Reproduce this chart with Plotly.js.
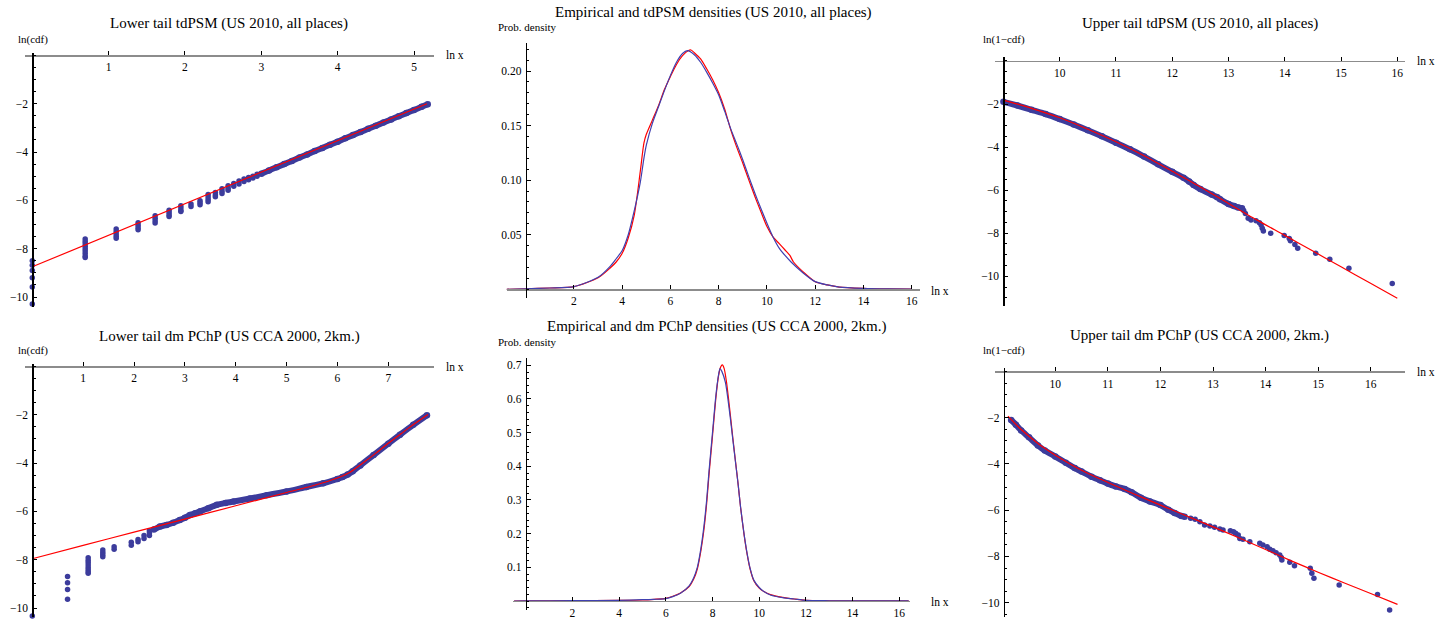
<!DOCTYPE html>
<html><head><meta charset="utf-8">
<script src="https://cdn.plot.ly/plotly-3.0.1.min.js"></script>
<style>body{margin:0;background:#fff}#plot{width:1438px;height:621px}</style>
</head><body><div id="plot"></div>
<script>
// ---------------- DATA ----------------
// Panel 1: Lower tail tdPSM (US 2010, all places)
const p1_cluster_x = [0, 0.693, 1.099, 1.386, 1.609, 1.792, 1.946, 2.079, 2.197, 2.303, 2.398, 2.485, 2.565, 2.639, 2.708, 2.773, 2.833, 2.890, 2.944];
const p1_cluster_y = [
  [-8.5,-8.69,-8.9,-9.2,-9.59,-10.29],
  [-7.6,-7.7,-7.8,-7.9,-8.0,-8.1,-8.2,-8.3,-8.37],
  [-7.19,-7.29,-7.39,-7.49,-7.57],
  [-6.93,-7.03,-7.13,-7.22],
  [-6.64,-6.74,-6.84,-6.94],
  [-6.41,-6.5,-6.6,-6.67],
  [-6.22,-6.32,-6.42,-6.46],
  [-6.15,-6.25],
  [-6.02,-6.1,-6.18],
  [-5.76,-5.86,-5.96,-6.06],
  [-5.68,-5.78,-5.85],
  [-5.52,-5.62,-5.72],
  [-5.4,-5.5,-5.58],
  [-5.3,-5.42],
  [-5.2,-5.32],
  [-5.12,-5.22],
  [-5.05,-5.15],
  [-5.0,-5.08],
  [-4.92,-5.0]
];
const p1_band_x = [3.0,3.1,3.2,3.3,3.4,3.5,3.6,3.7,3.8,3.9,4.0,4.1,4.2,4.3,4.4,4.5,4.6,4.7,4.8,4.9,5.0,5.1,5.18];
const p1_band_y = [-4.9,-4.76,-4.63,-4.5,-4.37,-4.23,-4.1,-3.96,-3.83,-3.7,-3.57,-3.43,-3.3,-3.17,-3.04,-2.91,-2.78,-2.65,-2.52,-2.39,-2.26,-2.13,-2.02];
const p1_fit_x = [0,1,2,3,4,5,5.17];
const p1_fit_y = [-8.75,-7.44,-6.14,-4.83,-3.53,-2.22,-2.0];

// Panel 2: Empirical and tdPSM densities (US 2010, all places)
const p2_emp_x = [-0.8,0,1,2,3,3.5,3.75,4,4.25,4.5,4.75,4.9,5,5.25,5.5,5.75,6,6.25,6.5,6.7,7,7.25,7.5,7.75,8,8.25,8.5,8.75,9,9.25,9.5,9.75,10,10.25,10.5,10.75,11,11.5,12,12.5,13,14,15,16];
const p2_emp_y = [0,0.0005,0.0012,0.0025,0.011,0.021,0.028,0.0355,0.05,0.072,0.098,0.12,0.132,0.152,0.167,0.182,0.196,0.208,0.216,0.2186,0.2147,0.208,0.199,0.189,0.178,0.163,0.147,0.133,0.1185,0.103,0.088,0.074,0.0605,0.048,0.038,0.031,0.025,0.015,0.007,0.004,0.002,0.0008,0.0003,0.0001];
const p2_fit_x = [-0.8,0,1,2,3,3.5,3.75,4,4.25,4.5,4.75,4.9,5,5.25,5.5,5.75,6,6.25,6.5,6.75,6.85,7,7.25,7.5,7.75,8,8.25,8.5,8.75,9,9.25,9.5,9.75,10,10.25,10.5,10.75,10.95,11.1,11.5,12,12.5,13,14,15,16];
const p2_fit_y = [0,0.0005,0.0012,0.0024,0.0105,0.0195,0.025,0.033,0.047,0.068,0.108,0.134,0.142,0.155,0.168,0.183,0.195,0.206,0.214,0.2188,0.2192,0.2165,0.211,0.202,0.192,0.18,0.165,0.146,0.13,0.1155,0.1,0.085,0.071,0.0575,0.048,0.042,0.036,0.031,0.025,0.016,0.007,0.004,0.002,0.0008,0.0003,0.0001];

// Panel 3: Upper tail tdPSM (US 2010, all places)
const p3_band_x = [9.0,9.25,9.5,9.75,10,10.25,10.5,10.75,11,11.25,11.5,11.75,12,12.2,12.3,12.38,12.5,12.7,12.8,12.85,13.0,13.1,13.17,13.24];
const p3_band_y = [-1.9,-2.07,-2.27,-2.47,-2.7,-2.95,-3.22,-3.5,-3.8,-4.1,-4.44,-4.8,-5.15,-5.42,-5.6,-5.76,-5.95,-6.2,-6.33,-6.42,-6.64,-6.74,-6.8,-6.84];
const p3_pts_x = [13.27,13.3,13.35,13.4,13.49,13.55,13.58,13.6,13.62,13.75,13.99,14.08,14.1,14.18,14.23,14.55,14.8,15.14,15.91];
const p3_pts_y = [-6.95,-7.08,-7.31,-7.39,-7.42,-7.51,-7.62,-7.77,-7.9,-8.0,-8.11,-8.24,-8.35,-8.52,-8.7,-8.93,-9.21,-9.63,-10.33];
const p3_fit_x = [9.0,9.5,10,10.5,11,11.5,12,12.5,13,13.5,14,14.5,15,15.5,16];
const p3_fit_y = [-1.82,-2.2,-2.64,-3.17,-3.75,-4.4,-5.12,-5.85,-6.62,-7.38,-8.1,-8.83,-9.56,-10.29,-11.02];

// Panel 4: Lower tail dm PChP (US CCA 2000, 2km.)
const p4_cluster_x = [0, 0.693, 1.099, 1.386, 1.609, 1.946, 2.079, 2.197, 2.303];
const p4_cluster_y = [
  [-10.33],
  [-8.7,-8.95,-9.23,-9.64],
  [-7.92,-8.02,-8.12,-8.22,-8.32,-8.42,-8.5,-8.56],
  [-7.6,-7.7,-7.8,-7.88],
  [-7.47,-7.57],
  [-7.28,-7.4],
  [-7.17,-7.26],
  [-7.0,-7.12],
  [-6.8,-6.9,-7.0]
];
const p4_band_x = [2.39,2.51,2.64,2.77,2.9,3.0,3.1,3.2,3.3,3.46,3.63,3.8,3.96,4.28,4.61,5.0,5.39,5.72,6.0,6.1,6.2,6.3,6.45,6.71,7.0,7.23,7.49,7.76];
const p4_band_y = [-6.75,-6.63,-6.56,-6.47,-6.36,-6.27,-6.15,-6.08,-6.0,-5.87,-5.73,-5.65,-5.59,-5.47,-5.33,-5.18,-4.99,-4.84,-4.66,-4.58,-4.48,-4.34,-4.1,-3.67,-3.2,-2.83,-2.42,-2.02];
const p4_fit_x = [0,1,2,3,4,5,5.5,6,6.25,6.5,6.75,7,7.25,7.5,7.78];
const p4_fit_y = [-7.96,-7.41,-6.86,-6.32,-5.77,-5.22,-4.95,-4.62,-4.38,-4.0,-3.6,-3.18,-2.79,-2.4,-1.99];

// Panel 5: Empirical and dm PChP densities (US CCA 2000, 2km.)
const p5_emp_x = [-0.5,0,2,4,5,5.5,6,6.3,6.63,7,7.2,7.35,7.5,7.63,7.75,7.85,8,8.14,8.25,8.32,8.4,8.55,8.65,8.76,8.87,8.98,9.1,9.2,9.35,9.48,9.6,9.77,10,10.2,10.48,11,11.5,12,13,14,16.4];
const p5_emp_y = [0,0.0005,0.001,0.002,0.004,0.005,0.007,0.013,0.023,0.045,0.07,0.1,0.155,0.22,0.3,0.385,0.5,0.607,0.668,0.69,0.682,0.65,0.605,0.545,0.48,0.415,0.345,0.28,0.2,0.142,0.1,0.062,0.04,0.028,0.018,0.01,0.006,0.002,0.0008,0.0003,0.0001];
const p5_fit_x = [-0.5,0,2,4,5,5.5,6,6.3,6.63,7,7.2,7.35,7.5,7.63,7.75,7.85,8,8.14,8.25,8.35,8.42,8.5,8.6,8.76,8.87,8.98,9.1,9.2,9.35,9.48,9.6,9.77,10,10.2,10.48,11,11.5,12,13,14,16.4];
const p5_fit_y = [0,0.0005,0.001,0.002,0.003,0.005,0.008,0.014,0.024,0.043,0.066,0.095,0.148,0.21,0.29,0.375,0.49,0.6,0.665,0.695,0.701,0.69,0.65,0.555,0.485,0.418,0.345,0.28,0.198,0.14,0.098,0.06,0.038,0.028,0.019,0.011,0.006,0.002,0.0008,0.0003,0.0001];

// Panel 6: Upper tail dm PChP (US CCA 2000, 2km.)
const p6_band_x = [9.16,9.25,9.35,9.5,9.67,9.8,10,10.2,10.37,10.5,10.69,10.85,11.0,11.15,11.32,11.45,11.63,11.8,12.0,12.15,12.27,12.4,12.46];
const p6_band_y = [-2.1,-2.3,-2.55,-2.85,-3.2,-3.42,-3.68,-3.95,-4.18,-4.33,-4.55,-4.7,-4.85,-4.97,-5.08,-5.22,-5.46,-5.62,-5.78,-5.98,-6.12,-6.25,-6.28];
const p6_pts_x = [12.575,12.66,12.75,12.84,12.94,13.03,13.13,13.19,13.33,13.39,13.43,13.48,13.51,13.57,13.70,13.89,13.95,14.03,14.08,14.14,14.20,14.27,14.30,14.31,14.46,14.55,14.85,14.88,14.92,15.40,16.13,16.36];
const p6_pts_y = [-6.35,-6.39,-6.5,-6.64,-6.68,-6.74,-6.81,-6.86,-6.89,-6.93,-7.0,-7.07,-7.22,-7.26,-7.36,-7.43,-7.51,-7.58,-7.69,-7.75,-7.84,-7.94,-8.04,-8.15,-8.25,-8.4,-8.51,-8.73,-8.94,-9.23,-9.64,-10.32];
const p6_fit_x = [9.1,9.3,9.5,9.75,10,10.5,11,11.5,12,12.5,13,13.5,14,14.5,15,15.5,16,16.51];
const p6_fit_y = [-1.93,-2.4,-2.8,-3.25,-3.62,-4.27,-4.8,-5.3,-5.78,-6.25,-6.72,-7.2,-7.7,-8.2,-8.68,-9.15,-9.6,-10.07];

// Tick labels
const tail_yticks = [-10,-8,-6,-4,-2];
const p1_xticks = [1,2,3,4,5];
const p4_xticks = [1,2,3,4,5,6,7];
const upper_xticks = [10,11,12,13,14,15,16];
const dens_xticks = [2,4,6,8,10,12,14,16];
const p2_yticks = [0.05,0.10,0.15,0.20];
const p2_ytext = ['0.05','0.10','0.15','0.20'];
const p5_yticks = [0.1,0.2,0.3,0.4,0.5,0.6,0.7];
const p5_ytext = ['0.1','0.2','0.3','0.4','0.5','0.6','0.7'];

const titles = [
  'Lower tail tdPSM (US 2010, all places)',
  'Empirical and tdPSM densities (US 2010, all places)',
  'Upper tail tdPSM (US 2010, all places)',
  'Lower tail dm PChP (US CCA 2000, 2km.)',
  'Empirical and dm PChP densities (US CCA 2000, 2km.)',
  'Upper tail dm PChP (US CCA 2000, 2km.)'
];

// ---------------- LAYOUT HELPERS ----------------
const W = 1438, H = 621;
const FONT = 'Liberation Serif, Times New Roman, serif';
const PTS = '#3c3c9c', RED = '#ff0000', BLUE = '#4040b0';
function cal(v1,p1,v2,p2){const s=(p2-p1)/(v2-v1);return {px:v=>p1+(v-v1)*s, val:p=>v1+(p-p1)/s};}
const fmtNeg = v => (v<0 ? '\u2212'+Math.abs(v) : String(v));

const panels = [
  {xc:cal(0,32.3,5,414), yc:cal(-2,103.7,-10,297), xpx:[25,434], ypx:[53,307], cx:0, cy:0,
   xt:p1_xticks, xtt:p1_xticks.map(String), yt:tail_yticks, ytt:tail_yticks.map(fmtNeg), ym:0.5},
  {xc:cal(0,525.7,16,911.7), yc:cal(0,289.3,0.2,71), xpx:[506.7,920], ypx:[43.3,298], cx:0, cy:0,
   xt:dens_xticks, xtt:dens_xticks.map(String), yt:p2_yticks, ytt:p2_ytext, ym:0.01},
  {xc:cal(10,1059.7,16,1397.3), yc:cal(-2,104,-10,276.3), xpx:[994.7,1404.7], ypx:[57,306], cx:9.0, cy:0,
   xt:upper_xticks, xtt:upper_xticks.map(String), yt:tail_yticks, ytt:tail_yticks.map(fmtNeg), ym:0.5},
  {xc:cal(0,32.3,7,388.3), yc:cal(-2,414.7,-10,608), xpx:[25,434], ypx:[364,617], cx:0, cy:0,
   xt:p4_xticks, xtt:p4_xticks.map(String), yt:tail_yticks, ytt:tail_yticks.map(fmtNeg), ym:0.5},
  {xc:cal(0,525.7,16,899.3), yc:cal(0,601,0.7,365.3), xpx:[513.3,910], ypx:[358.3,610], cx:0, cy:0,
   xt:dens_xticks, xtt:dens_xticks.map(String), yt:p5_yticks, ytt:p5_ytext, ym:0.02},
  {xc:cal(10,1055.3,16,1370.7), yc:cal(-2,417.7,-10,602.7), xpx:[994.7,1404.7], ypx:[368,617], cx:9.02, cy:0,
   xt:upper_xticks, xtt:upper_xticks.map(String), yt:tail_yticks, ytt:tail_yticks.map(fmtNeg), ym:0.5}
];

const layout = {
  width: W, height: H, margin: {l:0,r:0,t:0,b:0},
  paper_bgcolor: '#fff', plot_bgcolor: 'rgba(0,0,0,0)', showlegend: false,
  font: {family: FONT, color: '#000', size: 11},
  annotations: []
};

panels.forEach((p,i)=>{
  const s = i===0 ? '' : String(i+1);
  layout['xaxis'+s] = {
    domain: [p.xpx[0]/W, p.xpx[1]/W], range: [p.xc.val(p.xpx[0]), p.xc.val(p.xpx[1])],
    anchor: 'free', position: 1 - p.yc.px(p.cy)/H, side: 'bottom',
    showline: true, linecolor: '#8c8c8c', linewidth: 1.3, zeroline: false, showgrid: false,
    ticks: 'inside', ticklen: 4, tickwidth: 1, tickcolor: '#000',
    tickmode: 'array', tickvals: p.xt, ticktext: p.xtt,
    tickfont: {family: FONT, size: 11.5, color: '#000'}, ticklabelstandoff: 1, fixedrange: true
  };
  layout['yaxis'+s] = {
    domain: [1 - p.ypx[1]/H, 1 - p.ypx[0]/H], range: [p.yc.val(p.ypx[1]), p.yc.val(p.ypx[0])],
    anchor: 'free', position: p.xc.px(p.cx)/W, side: 'left',
    showline: true, linecolor: '#000', linewidth: 1.4, zeroline: false, showgrid: false,
    ticks: 'inside', ticklen: 3.5, tickwidth: 1, tickcolor: '#000',
    tickmode: 'array', tickvals: p.yt, ticktext: p.ytt,
    minor: {ticks: 'inside', ticklen: 2, tickwidth: 1, tickcolor: '#000', dtick: p.ym, tick0: 0, showgrid: false},
    tickfont: {family: FONT, size: 11.5, color: '#000'}, ticklabelstandoff: 2, fixedrange: true
  };
});

// Text labels (titles & axis labels), positioned in pixels
function ann(text, xpx, ypx, xanchor, size){
  layout.annotations.push({text: text, xref:'paper', yref:'paper', x: xpx/W, y: 1-ypx/H,
    xanchor: xanchor, yanchor: 'middle', showarrow: false, font: {family: FONT, size: size, color: '#000'}});
}
ann(titles[0], 229, 24, 'center', 15);
ann(titles[1], 713, 12.5, 'center', 15);
ann(titles[2], 1199.7, 24, 'center', 15);
ann(titles[3], 229, 336, 'center', 15);
ann(titles[4], 716.7, 326, 'center', 15);
ann(titles[5], 1199.7, 335.7, 'center', 15);
ann('ln(cdf)', 16, 39.5, 'left', 11);
ann('ln(cdf)', 16, 350.7, 'left', 11);
ann('Prob. density', 495.7, 26.7, 'left', 11);
ann('Prob. density', 495.7, 341.7, 'left', 11);
ann('ln(1\u2212cdf)', 980.7, 39.3, 'left', 11);
ann('ln(1\u2212cdf)', 980.7, 350.7, 'left', 11);
ann('ln x', 444, 55.5, 'left', 11.5);
ann('ln x', 444, 366.7, 'left', 11.5);
ann('ln x', 929.3, 290.7, 'left', 11.5);
ann('ln x', 929.3, 601.7, 'left', 11.5);
ann('ln x', 1415.3, 60.7, 'left', 11.5);
ann('ln x', 1415.3, 372, 'left', 11.5);

// ---------------- TRACES ----------------
function flatten(cx, cy){const X=[],Y=[];cx.forEach((x,i)=>cy[i].forEach(y=>{X.push(x);Y.push(y);}));return {X,Y};}
function pts(x,y,ax){return {type:'scatter',mode:'markers',x:x,y:y,xaxis:'x'+ax,yaxis:'y'+ax,
  marker:{color:PTS,size:5.5,line:{width:0}},cliponaxis:false,hoverinfo:'skip'};}
function band(x,y,ax){return {type:'scatter',mode:'lines+markers',x:x,y:y,xaxis:'x'+ax,yaxis:'y'+ax,
  line:{color:PTS,width:6,shape:'spline',smoothing:0.5},marker:{color:PTS,size:6.5},cliponaxis:false,hoverinfo:'skip'};}
function line(x,y,ax,color,shape){return {type:'scatter',mode:'lines',x:x,y:y,xaxis:'x'+ax,yaxis:'y'+ax,
  line:{color:color,width:1.2,shape:shape||'linear',smoothing:0.7},cliponaxis:false,hoverinfo:'skip'};}

const c1 = flatten(p1_cluster_x, p1_cluster_y);
const c4 = flatten(p4_cluster_x, p4_cluster_y);
const data = [
  pts(c1.X, c1.Y, ''), band(p1_band_x, p1_band_y, ''), line(p1_fit_x, p1_fit_y, '', RED),
  line(p2_fit_x, p2_fit_y, '2', RED, 'spline'), line(p2_emp_x, p2_emp_y, '2', BLUE, 'spline'),
  band(p3_band_x, p3_band_y, '3'), pts(p3_pts_x, p3_pts_y, '3'), line(p3_fit_x, p3_fit_y, '3', RED, 'spline'),
  pts(c4.X, c4.Y, '4'), band(p4_band_x, p4_band_y, '4'), line(p4_fit_x, p4_fit_y, '4', RED, 'spline'),
  line(p5_fit_x, p5_fit_y, '5', RED, 'spline'), line(p5_emp_x, p5_emp_y, '5', BLUE, 'spline'),
  band(p6_band_x, p6_band_y, '6'), pts(p6_pts_x, p6_pts_y, '6'), line(p6_fit_x, p6_fit_y, '6', RED, 'spline')
];

Plotly.newPlot('plot', data, layout, {staticPlot: true, displayModeBar: false});
</script></body></html>
